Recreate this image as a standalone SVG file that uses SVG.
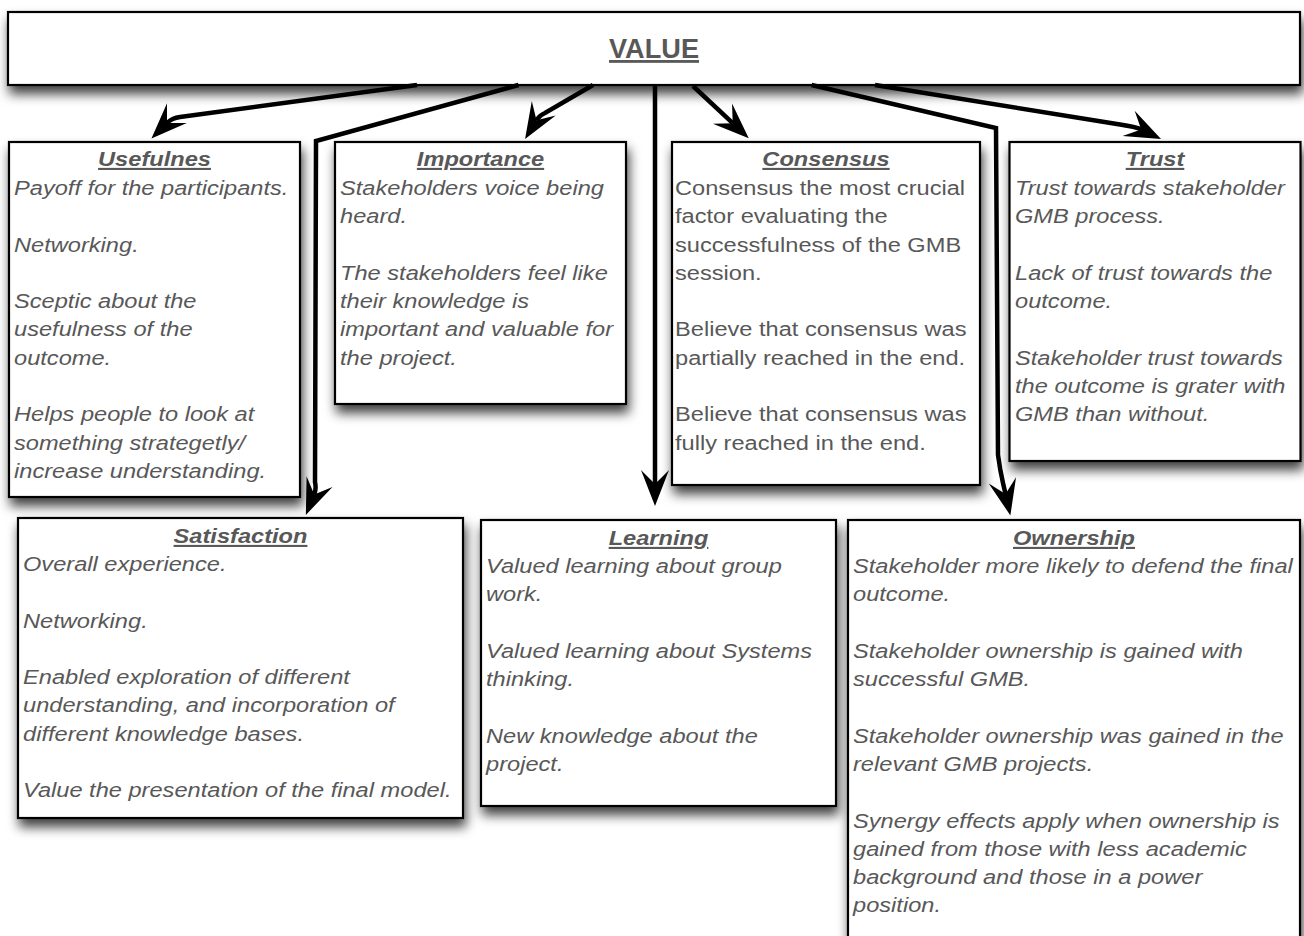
<svg xmlns="http://www.w3.org/2000/svg" width="1304" height="936" viewBox="0 0 1304 936">
<defs>
<filter id="sh" x="-10%" y="-10%" width="125%" height="140%">
<feDropShadow dx="2" dy="8" stdDeviation="6" flood-color="#000" flood-opacity="0.75"/>
</filter>
<marker id="ah" markerUnits="userSpaceOnUse" viewBox="-16 -16 40 32" markerWidth="40" markerHeight="32" refX="0" refY="0" orient="auto" overflow="visible">
<path d="M22,0 L-14,-14 L0,0 L-14,14 Z" fill="#000"/>
</marker>
</defs>
<style>
.box{fill:#fff;stroke:#000;stroke-width:2.2;filter:url(#sh)}
.t{font-family:"Liberation Sans",Arial,Helvetica,sans-serif;font-size:21px;fill:#585858}
.i{font-style:italic}
.h{font-weight:bold;font-style:italic;text-decoration:underline;text-anchor:middle}
.c{fill:none;stroke:#000;stroke-width:4.5;stroke-linejoin:miter;marker-end:url(#ah)}
</style>
<rect width="1304" height="936" fill="#fff"/>

<g id="value">
<rect class="box" x="8" y="12" width="1292" height="73"/>
<text class="t" transform="translate(654,58) scale(0.97,1)" style="font-size:28px;font-weight:bold;text-anchor:middle;text-decoration:underline">VALUE</text>
</g>

<g id="usefulnes">
<rect class="box" x="9" y="142" width="291" height="355"/>
<text class="t h" transform="translate(154.5,166) scale(1.125,1)">Usefulnes</text>
<text class="t i" transform="translate(14,0) scale(1.125,1)">
<tspan x="0" y="195">Payoff for the participants.</tspan>
<tspan x="0" y="251.6">Networking.</tspan>
<tspan x="0" y="308.2">Sceptic about the</tspan>
<tspan x="0" y="336.5">usefulness of the</tspan>
<tspan x="0" y="364.8">outcome.</tspan>
<tspan x="0" y="421.4">Helps people to look at</tspan>
<tspan x="0" y="449.7">something strategetly/</tspan>
<tspan x="0" y="478">increase understanding.</tspan>
</text>
</g>

<g id="importance">
<rect class="box" x="335" y="142" width="291" height="262"/>
<text class="t h" transform="translate(480.5,166) scale(1.125,1)">Importance</text>
<text class="t i" transform="translate(340,0) scale(1.125,1)">
<tspan x="0" y="195">Stakeholders voice being</tspan>
<tspan x="0" y="223.3">heard.</tspan>
<tspan x="0" y="280">The stakeholders feel like</tspan>
<tspan x="0" y="308.2">their knowledge is</tspan>
<tspan x="0" y="336.5">important and valuable for</tspan>
<tspan x="0" y="364.8">the project.</tspan>
</text>
</g>

<g id="consensus">
<rect class="box" x="672" y="142" width="308" height="343"/>
<text class="t h" transform="translate(826,166) scale(1.125,1)">Consensus</text>
<text class="t" transform="translate(675,0) scale(1.125,1)">
<tspan x="0" y="195">Consensus the most crucial</tspan>
<tspan x="0" y="223.3">factor evaluating the</tspan>
<tspan x="0" y="251.6">successfulness of the GMB</tspan>
<tspan x="0" y="280">session.</tspan>
<tspan x="0" y="336.5">Believe that consensus was</tspan>
<tspan x="0" y="364.8">partially reached in the end.</tspan>
<tspan x="0" y="421.4">Believe that consensus was</tspan>
<tspan x="0" y="449.7">fully reached in the end.</tspan>
</text>
</g>

<g id="trust">
<rect class="box" x="1009.5" y="142" width="291" height="319"/>
<text class="t h" transform="translate(1155,166) scale(1.125,1)">Trust</text>
<text class="t i" transform="translate(1015,0) scale(1.125,1)">
<tspan x="0" y="195">Trust towards stakeholder</tspan>
<tspan x="0" y="223.3">GMB process.</tspan>
<tspan x="0" y="280">Lack of trust towards the</tspan>
<tspan x="0" y="308.2">outcome.</tspan>
<tspan x="0" y="364.8">Stakeholder trust towards</tspan>
<tspan x="0" y="393">the outcome is grater with</tspan>
<tspan x="0" y="421.4">GMB than without.</tspan>
</text>
</g>

<g id="satisfaction">
<rect class="box" x="18" y="518" width="445" height="300"/>
<text class="t h" transform="translate(240.5,543) scale(1.125,1)">Satisfaction</text>
<text class="t i" transform="translate(23,0) scale(1.125,1)">
<tspan x="0" y="571">Overall experience.</tspan>
<tspan x="0" y="627.6">Networking.</tspan>
<tspan x="0" y="684.2">Enabled exploration of different</tspan>
<tspan x="0" y="712.5">understanding, and incorporation of</tspan>
<tspan x="0" y="740.8">different knowledge bases.</tspan>
<tspan x="0" y="797.4">Value the presentation of the final model.</tspan>
</text>
</g>

<g id="learning">
<rect class="box" x="481" y="520" width="355" height="286"/>
<text class="t h" transform="translate(658.5,545) scale(1.125,1)">Learning</text>
<text class="t i" transform="translate(486,0) scale(1.125,1)">
<tspan x="0" y="573">Valued learning about group</tspan>
<tspan x="0" y="601.3">work.</tspan>
<tspan x="0" y="658">Valued learning about Systems</tspan>
<tspan x="0" y="686.2">thinking.</tspan>
<tspan x="0" y="742.8">New knowledge about the</tspan>
<tspan x="0" y="771">project.</tspan>
</text>
</g>

<g id="ownership">
<rect class="box" x="848" y="520" width="452" height="440"/>
<text class="t h" transform="translate(1074,545) scale(1.125,1)">Ownership</text>
<text class="t i" transform="translate(853,0) scale(1.125,1)">
<tspan x="0" y="573">Stakeholder more likely to defend the final</tspan>
<tspan x="0" y="601.3">outcome.</tspan>
<tspan x="0" y="658">Stakeholder ownership is gained with</tspan>
<tspan x="0" y="686.2">successful GMB.</tspan>
<tspan x="0" y="742.8">Stakeholder ownership was gained in the</tspan>
<tspan x="0" y="771">relevant GMB projects.</tspan>
<tspan x="0" y="827.6">Synergy effects apply when ownership is</tspan>
<tspan x="0" y="856">gained from those with less academic</tspan>
<tspan x="0" y="884.2">background and those in a power</tspan>
<tspan x="0" y="912.5">position.</tspan>
</text>
</g>

<g id="connectors">
<path class="c" d="M417,85 L180,117 Q172,118 167,123"/>
<path class="c" d="M518.5,85 L316,141 L315,482 Q316.5,489 314.2,494.6"/>
<path class="c" d="M593,85 L545,113 Q539.6,115.1 536.5,120.2"/>
<path class="c" d="M655,85 L655,484"/>
<path class="c" d="M693,86 L732.7,123.2"/>
<path class="c" d="M811.6,85 L996,128 L998,455 Q1000,470 1003,483 L1005.5,494"/>
<path class="c" d="M875,85 L1120,124.5 Q1135.8,126.8 1141.2,129.4"/>
</g>
</svg>
